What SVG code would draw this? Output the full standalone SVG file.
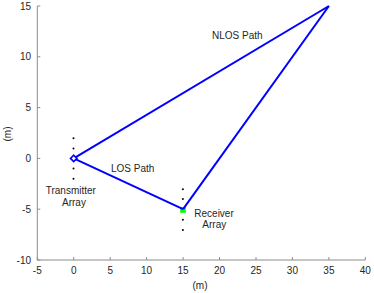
<svg xmlns="http://www.w3.org/2000/svg" width="374" height="293" viewBox="0 0 374 293">
<style>
.ax{stroke:#8c8c8c;stroke-width:1;fill:none}
.tl{font-family:"Liberation Sans",Arial,sans-serif;font-size:10px;fill:#262626}
.lb{font-family:"Liberation Sans",Arial,sans-serif;font-size:10px;fill:#262626}
.path{stroke:#0000ff;stroke-width:2;fill:none;stroke-linejoin:round}
.dot{fill:#000}
</style>
<rect width="374" height="293" fill="#fff"/>
<g id="axes">
<path class="ax" d="M37.3,6V260H365.3"/>
<path class="ax" d="M37.3,6h3M37.3,56.8h3M37.3,107.6h3M37.3,158.4h3M37.3,209.2h3M37.3,260h3"/>
<path class="ax" d="M37.3,260v-3M73.7,260v-3M110.2,260v-3M146.6,260v-3M183.1,260v-3M219.5,260v-3M256,260v-3M292.4,260v-3M328.9,260v-3M365.3,260v-3"/>
<g class="tl" text-anchor="end">
<text x="31" y="9.5">15</text>
<text x="31" y="60.3">10</text>
<text x="31" y="111.1">5</text>
<text x="31" y="161.9">0</text>
<text x="31" y="212.7">-5</text>
<text x="31" y="263.5">-10</text>
</g>
<g class="tl" text-anchor="middle">
<text x="37.3" y="274">-5</text>
<text x="73.7" y="274">0</text>
<text x="110.2" y="274">5</text>
<text x="146.6" y="274">10</text>
<text x="183.1" y="274">15</text>
<text x="219.5" y="274">20</text>
<text x="256" y="274">25</text>
<text x="292.4" y="274">30</text>
<text x="328.9" y="274">35</text>
<text x="365.3" y="274">40</text>
</g>
<text class="tl" text-anchor="middle" x="200" y="289">(m)</text>
<text class="tl" text-anchor="middle" transform="translate(10.5,134) rotate(-90)">(m)</text>
</g>
<g id="transmitter">
<circle class="dot" cx="73.5" cy="138.2" r="1"/>
<circle class="dot" cx="73.5" cy="148.4" r="1"/>
<circle class="dot" cx="73.5" cy="168.5" r="1"/>
<circle class="dot" cx="73.5" cy="178.7" r="1"/>
<text class="lb" x="45.7" y="194">Transmitter</text>
<text class="lb" x="62" y="206">Array</text>
</g>
<g id="receiver">
<circle class="dot" cx="182.9" cy="189.2" r="1"/>
<circle class="dot" cx="182.9" cy="199.1" r="1"/>
<circle class="dot" cx="182.9" cy="219.8" r="1"/>
<circle class="dot" cx="182.9" cy="230" r="1"/>
<rect x="180.2" y="207.2" width="5.6" height="5.6" fill="#00ff00"/>
<text class="lb" x="194.3" y="216.7">Receiver</text>
<text class="lb" x="202.3" y="228.3">Array</text>
</g>
<g id="connectors">
<path id="nlos1" class="path" d="M73.7,158.4L328.9,6"/>
<path id="nlos2" class="path" d="M328.9,6L183.1,209.2"/>
<path id="los" class="path" d="M183.1,209.2L73.7,158.4"/>
<text class="lb" x="212" y="38.5">NLOS Path</text>
<text class="lb" x="111" y="171.5">LOS Path</text>
</g>
<g id="transmitter-marker">
<path d="M73.7,155.2L76.9,158.4L73.7,161.6L70.5,158.4Z" fill="#fff" stroke="#0000ff" stroke-width="1.6"/>
</g>
</svg>
